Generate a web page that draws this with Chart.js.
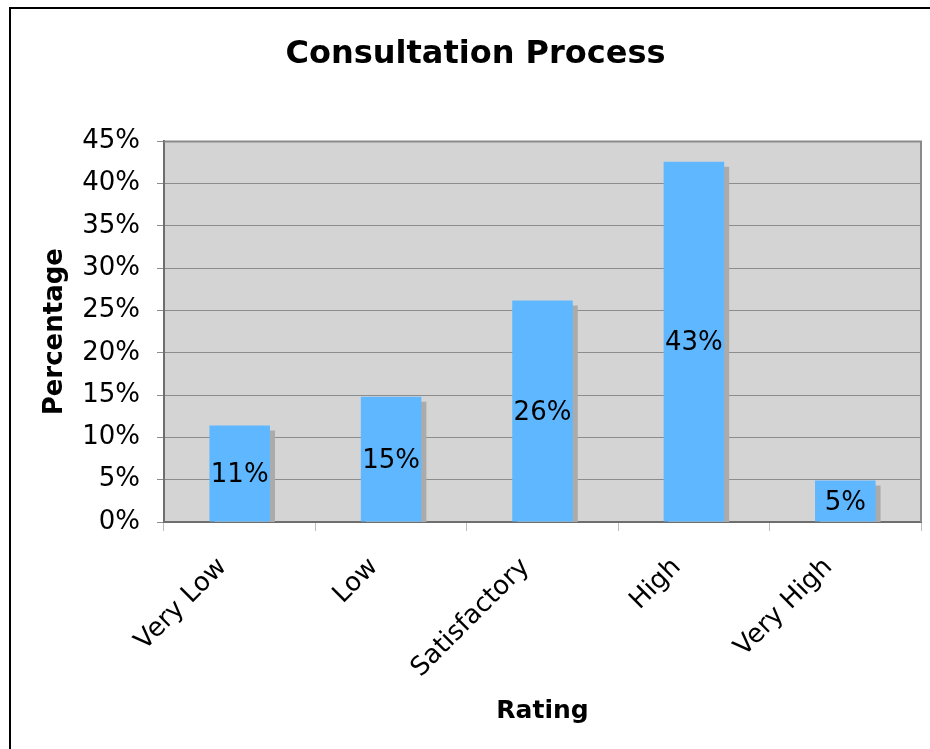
<!DOCTYPE html>
<html>
<head>
<meta charset="utf-8">
<script src="https://cdn.jsdelivr.net/npm/chart.js@4.4.1/dist/chart.umd.min.js"></script>
<style>
  html, body { margin: 0; padding: 0; background: #fff; overflow: hidden; }
  .frame {
    position: absolute; left: 9px; top: 7px;
    width: 1000px; height: 1000px;
    border: 2px solid #000;
  }
  .wrap { position: absolute; left: 0; top: 0; width: 930px; height: 749px; }
</style>
</head>
<body>
<div class="frame"></div>
<div class="wrap"><canvas id="ratingChart"></canvas></div>
<script>
const categories = ['Very Low', 'Low', 'Satisfactory', 'High', 'Very High'];
const percentages = [11.4, 14.8, 26.2, 42.6, 4.9];
const valueLabels = ['11%', '15%', '26%', '43%', '5%'];
const yTicks = [0, 5, 10, 15, 20, 25, 30, 35, 40, 45];

const FONT = 'DejaVu Sans, Verdana, sans-serif';

// grey plot background
const plotBg = {
  id: 'plotBg',
  beforeDraw(chart) {
    const { ctx, chartArea: a } = chart;
    ctx.save();
    ctx.fillStyle = '#d4d4d4';
    ctx.fillRect(a.left, a.top, a.right - a.left, a.bottom - a.top);
    ctx.restore();
  },
  afterDraw(chart) {
    const { ctx, chartArea: a } = chart;
    ctx.save();
    ctx.strokeStyle = '#8a8a8a';
    ctx.lineWidth = 2;
    ctx.beginPath();
    ctx.moveTo(a.left, a.top);
    ctx.lineTo(a.right, a.top);
    ctx.lineTo(a.right, a.bottom);
    ctx.stroke();
    ctx.restore();
  }
};

// flat drop shadow behind bars
const barShadow = {
  id: 'barShadow',
  beforeDatasetDraw(chart) {
    const ctx = chart.ctx;
    ctx.save();
    ctx.shadowColor = '#ababab';
    ctx.shadowOffsetX = 5;
    ctx.shadowOffsetY = 5;
    ctx.shadowBlur = 0;
  },
  afterDatasetDraw(chart) {
    chart.ctx.restore();
  }
};

// value labels in the middle of each bar
const barLabels = {
  id: 'barLabels',
  afterDatasetsDraw(chart) {
    const ctx = chart.ctx;
    const meta = chart.getDatasetMeta(0);
    ctx.save();
    ctx.font = '26px ' + FONT;
    ctx.fillStyle = '#000';
    ctx.textAlign = 'center';
    ctx.textBaseline = 'middle';
    meta.data.forEach((bar, i) => {
      ctx.fillText(valueLabels[i], bar.x, (bar.y + bar.base) / 2 + 2);
    });
    ctx.restore();
  }
};

new Chart(document.getElementById('ratingChart'), {
  type: 'bar',
  data: {
    labels: categories,
    datasets: [{
      data: percentages,
      backgroundColor: '#5fb8ff',
      borderWidth: 0,
      barPercentage: 0.8,
      categoryPercentage: 0.5
    }]
  },
  options: {
    responsive: true,
    maintainAspectRatio: false,
    animation: false,
    layout: { padding: { left: 30, right: 9, top: 0, bottom: 0 } },
    plugins: {
      legend: { display: false },
      tooltip: { enabled: false },
      title: {
        display: true,
        text: 'Consultation Process',
        color: '#000',
        font: { family: FONT, size: 32, weight: 'bold' },
        padding: { top: 35, bottom: 68 }
      }
    },
    scales: {
      x: {
        grid: {
          offset: true,
          drawOnChartArea: false,
          color: '#bdbdbd',
          tickLength: 9
        },
        border: { color: '#6e6e6e', width: 2 },
        ticks: {
          color: '#000',
          font: { family: FONT, size: 26 },
          minRotation: 45,
          maxRotation: 45,
          padding: 21,
          labelOffset: -17
        },
        title: {
          display: true,
          text: 'Rating',
          color: '#000',
          font: { family: FONT, size: 25, weight: 'bold' },
          padding: { top: 0, bottom: 23 }
        },
        afterFit(scale) { scale.height = 227; }
      },
      y: {
        min: 0,
        max: 45,
        afterBuildTicks(scale) { scale.ticks = yTicks.map(v => ({ value: v })); },
        grid: { color: '#8c8c8c', tickLength: 7, lineWidth: 1 },
        border: { color: '#6e6e6e', width: 2 },
        ticks: {
          color: '#000',
          font: { family: FONT, size: 26 },
          padding: 17,
          callback: v => v + '%'
        },
        title: {
          display: true,
          text: 'Percentage',
          color: '#000',
          font: { family: FONT, size: 26, weight: 'bold' },
          padding: { top: 10, bottom: 0 }
        },
        afterFit(scale) { scale.width = 134; }
      }
    }
  },
  plugins: [plotBg, barShadow, barLabels]
});
</script>
</body>
</html>
